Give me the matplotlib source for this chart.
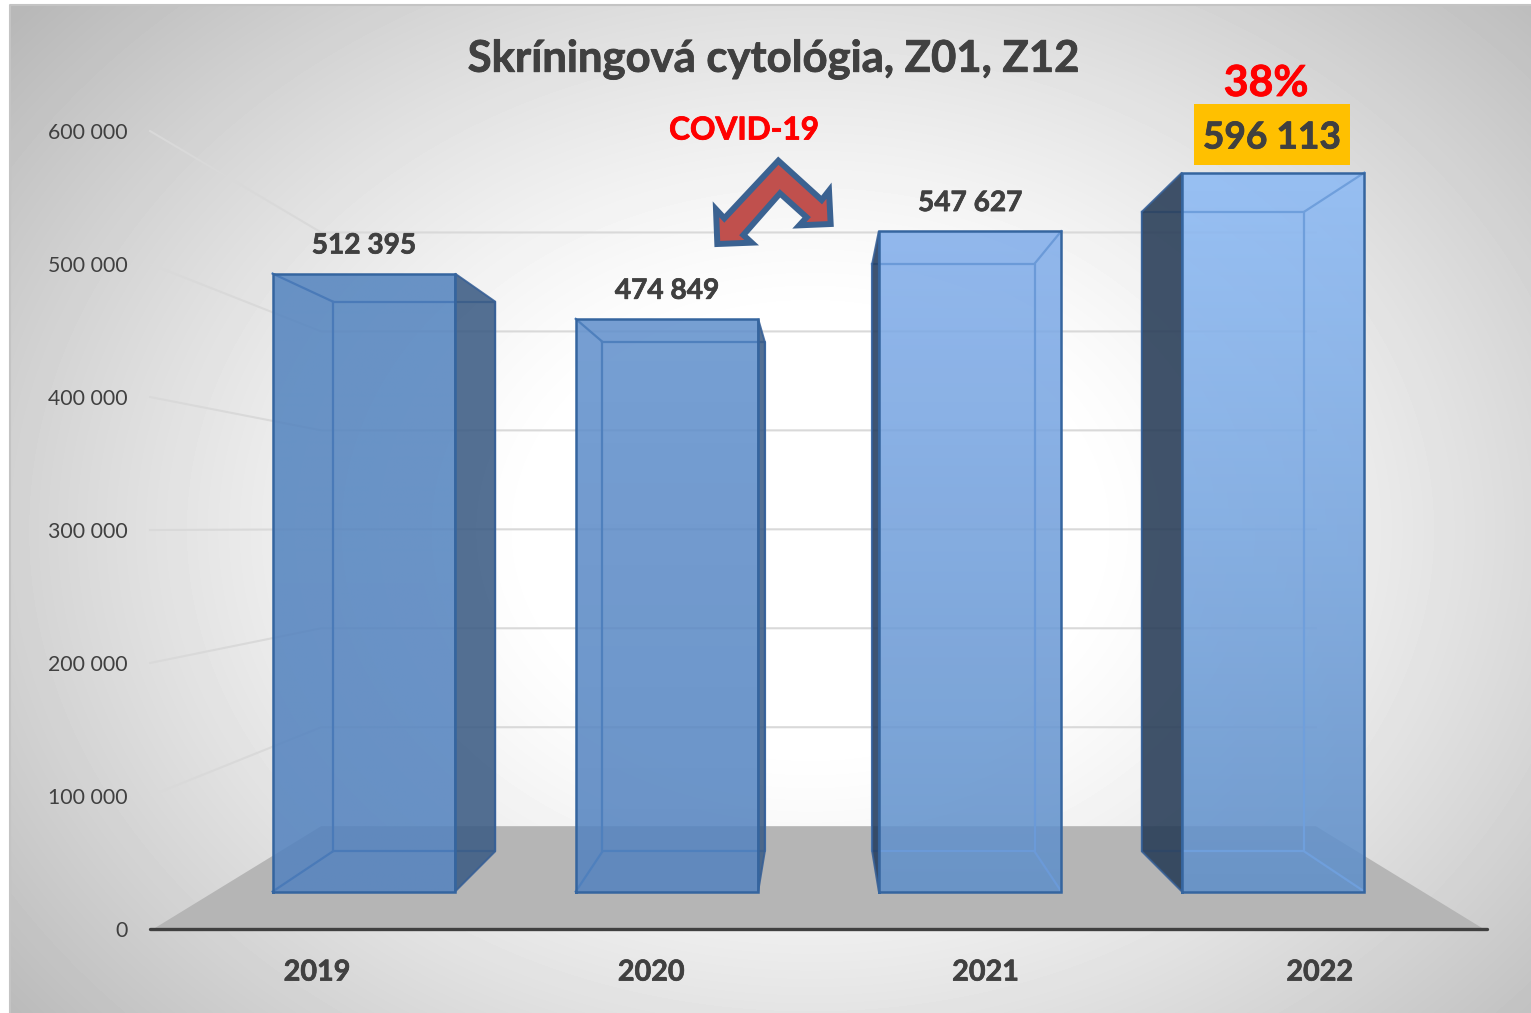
import numpy as np
import matplotlib
matplotlib.use('Agg')
import matplotlib.pyplot as plt
import matplotlib.patheffects as pe
from matplotlib.patches import Polygon, Rectangle
from matplotlib.transforms import Affine2D

plt.rcParams['font.family'] = ['Lato', 'DejaVu Sans']

years = ['2019', '2020', '2021', '2022']
counts = [512395, 474849, 547627, 596113]
count_labels = ['512 395', '474 849', '547 627', '596 113']
y_ticks = [0, 100000, 200000, 300000, 400000, 500000, 600000]
y_tick_labels = ['0', '100 000', '200 000', '300 000', '400 000', '500 000', '600 000']

TEXT = '#404040'
W, H = 1531, 1013

# perspective of the fake 3D box, in data units
VP_X = 1.50
VP_Y = 302000
K_BAR_FRONT = 0.9068
K_BAR_BACK = 0.8068
K_WALL = 0.744
BAR_WIDTH = 0.602

top_colors = ['#5485c0', '#6291cd', '#82aeeb', '#8cbaf5']
bottom_colors = ['#5483bf', '#5483bf', '#5f8fc9', '#5f8fc9']
side_colors = ['#3c5c84', '#3c5c84', '#233c5e', '#263b56']
inner_colors = ['#4a7ab8', '#4f80bd', '#6b9ad8', '#6f9fdc']


def proj(x, v, k):
    return VP_X + (x - VP_X) * k, VP_Y + (v - VP_Y) * k


def heavy(size=0.5, color=TEXT):
    # Lato bold is a bit thin compared to the original face
    return [pe.withStroke(linewidth=size, foreground=color)]


fig = plt.figure(figsize=(W / 100, H / 100), dpi=100)

# background gradient, white in the middle, grey at the corners
bg = fig.add_axes([0, 0, 1, 1], zorder=-1)
xx, yy = np.meshgrid(np.arange(10, W), np.arange(5, H))
d = np.sqrt(((xx - 810) / 830) ** 2 + ((yy - 530) / 640) ** 2)
shade = 1 - 0.28 * np.clip((d - 0.33) / 0.92, 0, 1) ** 1.25
bg.imshow(shade, extent=[10, W, H, 5], cmap='gray', vmin=0, vmax=1, aspect='auto', zorder=0)
bg.plot([10, 10, W], [H, 5, 5], color='#c4c4c4', lw=1.5, zorder=1)
bg.set_xlim(0, W)
bg.set_ylim(H, 0)
bg.axis('off')

ax = fig.add_axes([150 / W, (H - 929) / H, 1337 / W, 798 / H])
ax.patch.set_visible(False)

# side wall and back wall gridlines
for t in y_ticks[1:]:
    x_w, y_w = proj(-0.5, t, K_WALL)
    x_r, _ = proj(3.5, t, K_WALL)
    ax.plot([-0.5, x_w, x_r], [t, y_w, y_w], color='#d9d9d9', lw=1.5, zorder=1, clip_on=False)

# floor
fl_a = proj(-0.5, 0, K_WALL)
fl_b = proj(3.5, 0, K_WALL)
ax.add_patch(Polygon([(-0.49, 0), (3.49, 0), fl_b, fl_a], facecolor='#b5b5b5', edgecolor='none',
                     zorder=2, clip_on=False))

for i, v in enumerate(counts):
    x0 = i - BAR_WIDTH / 2
    x1 = i + BAR_WIDTH / 2
    f_lb, f_rb = proj(x0, 0, K_BAR_FRONT), proj(x1, 0, K_BAR_FRONT)
    f_lt, f_rt = proj(x0, v, K_BAR_FRONT), proj(x1, v, K_BAR_FRONT)
    b_lb, b_rb = proj(x0, 0, K_BAR_BACK), proj(x1, 0, K_BAR_BACK)
    b_lt, b_rt = proj(x0, v, K_BAR_BACK), proj(x1, v, K_BAR_BACK)

    # front face with a vertical gradient
    c_top = np.array(matplotlib.colors.to_rgb(top_colors[i]))
    c_bot = np.array(matplotlib.colors.to_rgb(bottom_colors[i]))
    t = np.linspace(0, 1, 200)[:, None]
    grad = np.ones((200, 1, 4)) * 0.87
    grad[:, 0, :3] = c_top * (1 - t) + c_bot * t
    ax.imshow(grad, extent=[f_lb[0], f_rb[0], f_lb[1], f_lt[1]], aspect='auto', zorder=3,
              interpolation='bilinear', clip_on=False)

    # dark side, the one that faces the middle of the chart
    if i < VP_X:
        side = [f_rt, b_rt, b_rb, f_rb]
        inner = [(f_lt, b_lt), (f_lb, b_lb)]
    else:
        side = [f_lt, b_lt, b_lb, f_lb]
        inner = [(f_rt, b_rt), (f_rb, b_rb)]
    ax.add_patch(Polygon(side, facecolor=side_colors[i], edgecolor='#365f96', lw=1.4, alpha=0.88,
                         zorder=5.5, clip_on=False))

    # inner edges of the box
    for p, q in inner:
        ax.plot([p[0], q[0]], [p[1], q[1]], color=inner_colors[i], lw=1.6, zorder=5, clip_on=False)
    ax.plot([b_lt[0], b_rt[0], b_rb[0], b_lb[0], b_lt[0]],
            [b_lt[1], b_rt[1], b_rb[1], b_lb[1], b_lt[1]],
            color=inner_colors[i], lw=1.6, zorder=5, clip_on=False)

    # front outline
    ax.plot([f_lb[0], f_lt[0], f_rt[0], f_rb[0], f_lb[0]],
            [f_lb[1], f_lt[1], f_rt[1], f_rb[1], f_lb[1]],
            color='#35659f', lw=1.8, zorder=6, clip_on=False, solid_joinstyle='miter')

    # value labels, the last one has its own box
    if i < 3:
        ax.annotate(count_labels[i], xy=((f_lt[0] + f_rt[0]) / 2, f_lt[1]), xytext=(0, 20.2),
                    textcoords='offset points', ha='center', va='center', fontsize=20.2,
                    fontweight='bold', color=TEXT, zorder=8, annotation_clip=False,
                    path_effects=heavy())

ax.set_xlim(-0.5, 3.5)
ax.set_ylim(0, 600000)
ax.set_xticks(range(4))
ax.set_xticklabels(years, fontsize=20.7, fontweight='bold', color=TEXT, path_effects=heavy())
ax.set_yticks(y_ticks)
ax.set_yticklabels(y_tick_labels, fontsize=15.3, color=TEXT)
ax.tick_params(axis='x', length=0, pad=22)
ax.tick_params(axis='y', length=0, pad=16)
for s in ['top', 'right', 'left']:
    ax.spines[s].set_visible(False)
ax.spines['bottom'].set_color('#404040')
ax.spines['bottom'].set_linewidth(2.4)
ax.spines['bottom'].set_capstyle('round')
ax.spines['bottom'].set_zorder(7)

# overlays placed in picture pixels
px = Affine2D().scale(1, -1).translate(0, H)


def txt(x, y, s, size, color):
    fig.text(x, y, s, transform=px, ha='center', va='center', fontsize=size, fontweight='bold',
             color=color, zorder=20, path_effects=heavy(0.6, color))


txt(774, 59, 'Skríningová cytológia, Z01, Z12', 31.4, TEXT)
txt(744, 130, 'COVID-19', 22.7, '#ff0000')
txt(1266, 83, '38%', 30.8, '#ff0000')
fig.add_artist(Rectangle((1194, 104), 156, 61, transform=px, facecolor='#ffc000', edgecolor='none', zorder=15))
txt(1272, 138, count_labels[3], 26.7, TEXT)

# bent double arrow under the COVID-19 label
arrow = [(295, 182), (425, 300), (447, 272), (452, 372), (358, 376), (380, 352), (300, 280),
         (190, 405), (215, 428), (112, 432), (108, 328), (133, 355)]
arrow = [(680 + a / 3, 100 + b / 3) for a, b in arrow]
fig.add_artist(Polygon(arrow, closed=True, transform=px, facecolor='#c0504d', edgecolor='#3b6291',
                       lw=4.3, joinstyle='miter', zorder=15))

fig.savefig('out.png', dpi=100)
